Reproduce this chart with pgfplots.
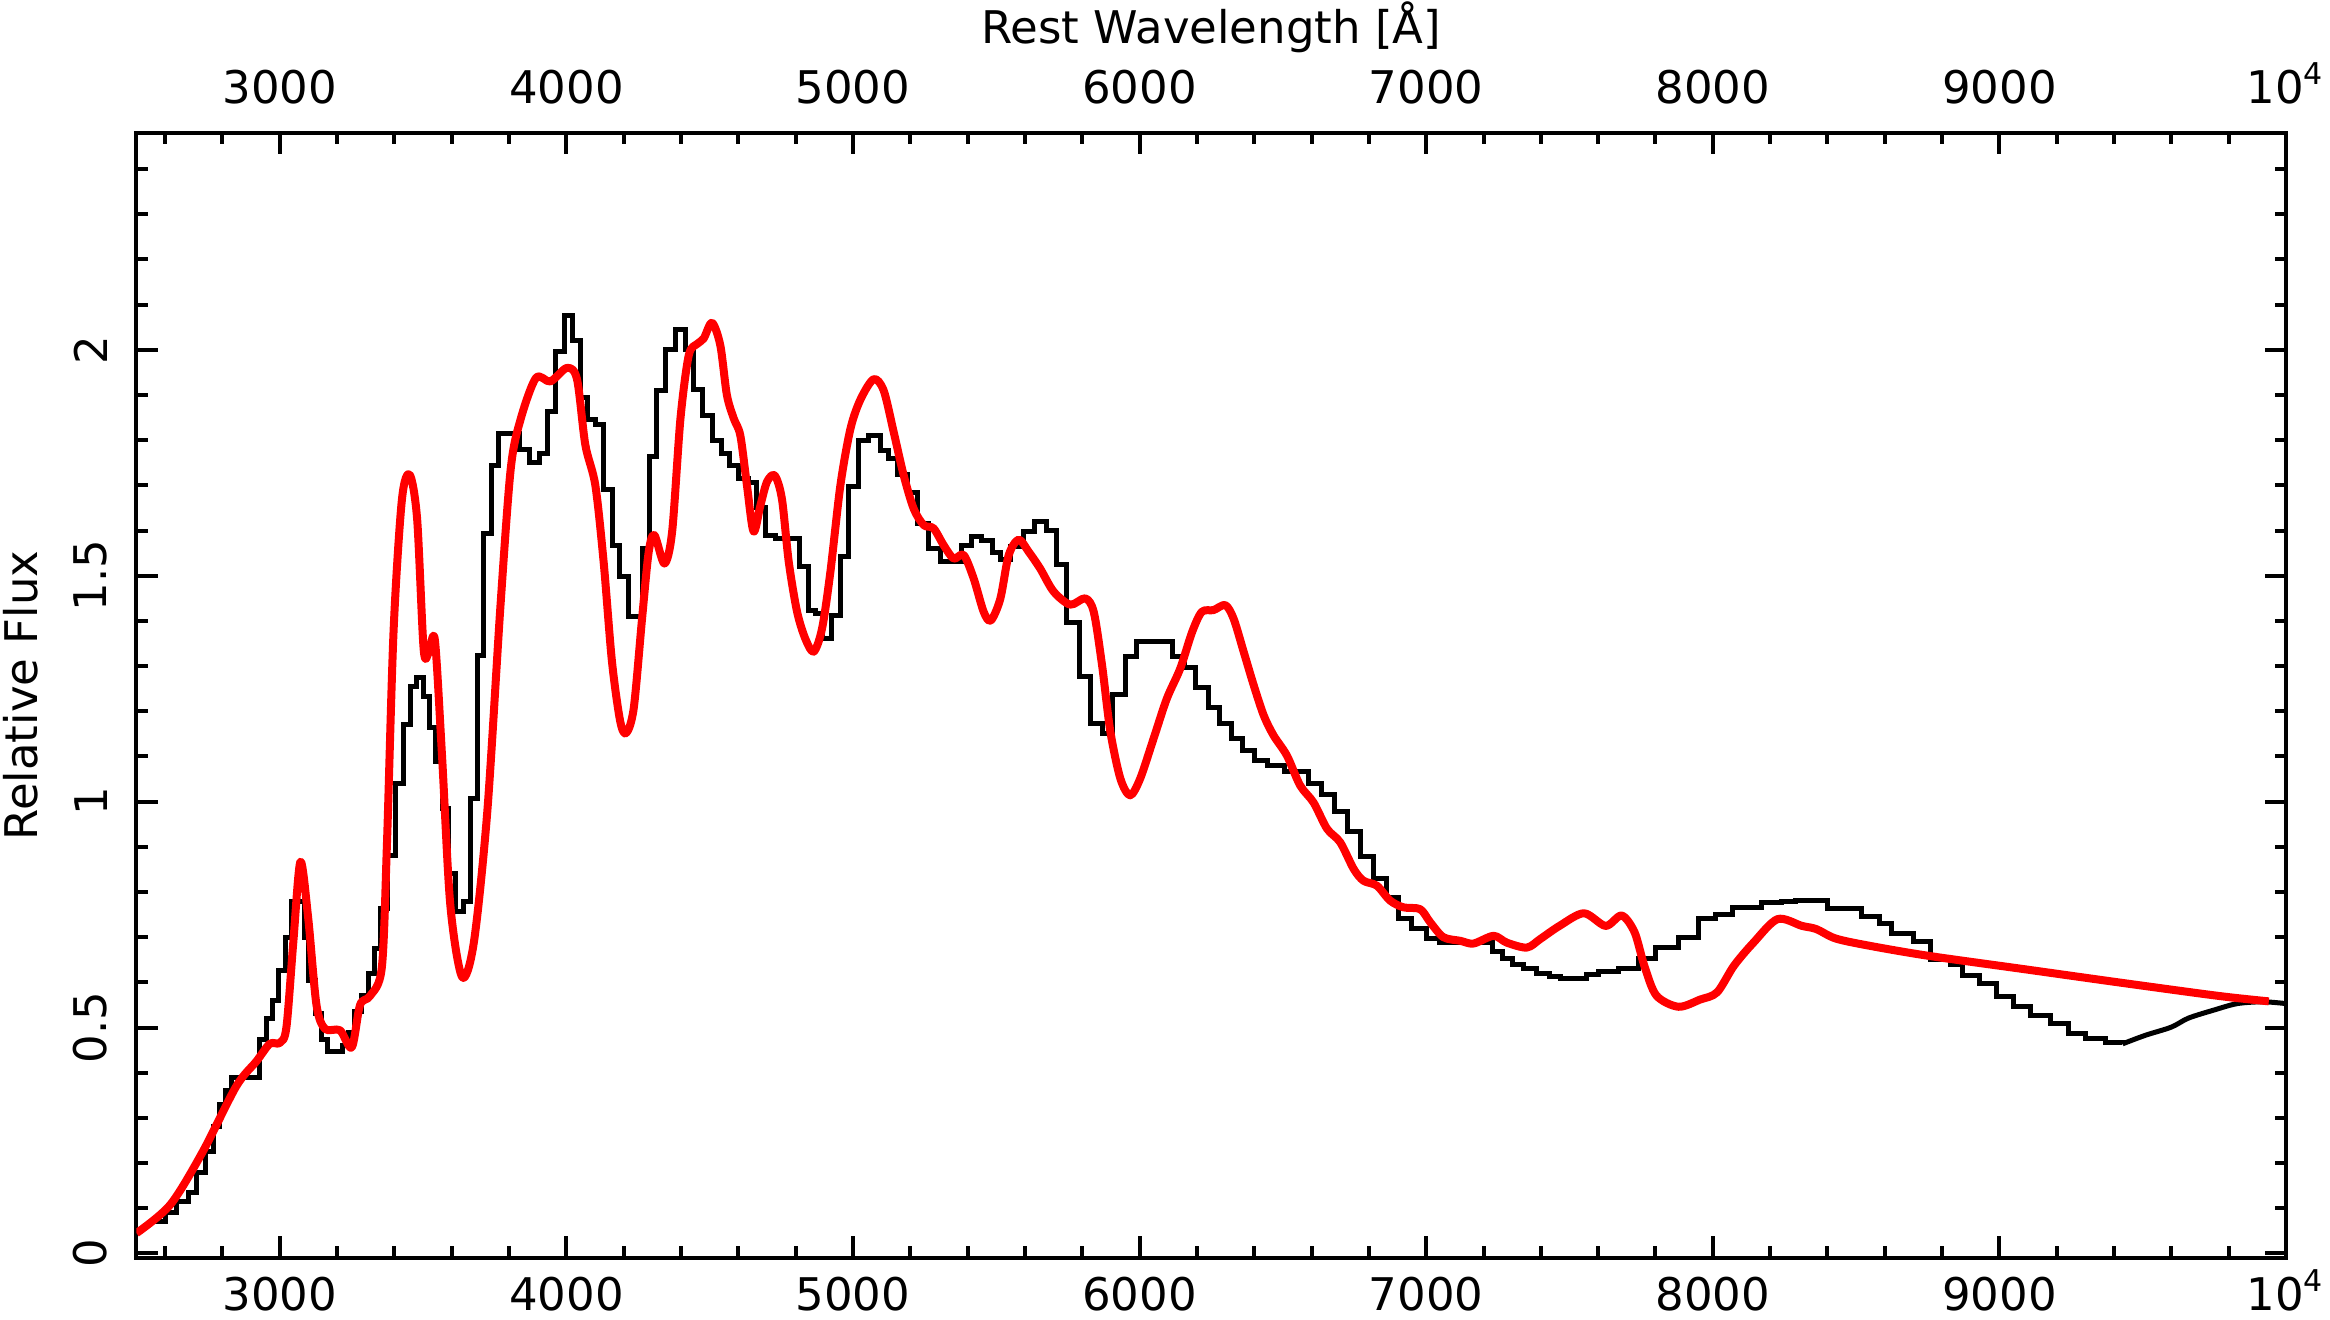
\documentclass[border=0pt]{standalone}
\usepackage{fontspec}
\setmainfont{DejaVu Sans}
\usepackage{pgfplots}
\pgfplotsset{compat=1.18}
\begin{document}
\fontsize{9}{11}\selectfont
\begin{tikzpicture}
\useasboundingbox (-27.3pt,-12.4pt) rectangle (438.7pt,251.6pt);
\begin{axis}[
  at={(0,0)}, anchor=south west, scale only axis,
  width=429.9pt, height=225pt,
  xmin=2500, xmax=10000, ymin=-0.01, ymax=2.48,
  scaled x ticks=false, scaled y ticks=false,
  axis line style={line width=0.8pt},
  every tick/.style={line width=0.8pt, black},
  major tick length=4.3pt, minor tick length=2.3pt,
  xtick={3000,4000,5000,6000,7000,8000,9000,10000},
  xticklabels={3000,4000,5000,6000,7000,8000,9000,{10\textsuperscript{4}}},
  minor xtick={2600,2800,...,9800},
  ytick={0,0.5,1,1.5,2},
  yticklabels={0,0.5,1,1.5,2},
  minor ytick={0.1,0.2,...,2.45},
  tick label style={font=\fontsize{9}{11}\selectfont},
  xticklabel style={anchor=north, text height=6.6pt, text depth=0pt, yshift=-0.8pt},
  yticklabel style={rotate=90, anchor=south, yshift=2.6pt},
  ylabel={Relative Flux},
  ylabel style={at={(axis description cs:0,0.5)}, anchor=center, rotate=0, yshift=23.1pt, font=\fontsize{9}{11}\selectfont},
  clip=true,
]
% observed spectrum (binned)
\addplot[black, line width=1pt, const plot] coordinates {
(2560,0.07) (2600,0.09) (2640,0.115) (2680,0.135) (2710,0.18) (2740,0.225)
(2770,0.28) (2790,0.33) (2810,0.36) (2830,0.39) (2930,0.474) (2955,0.52)
(2975,0.56) (2995,0.626) (3020,0.70) (3040,0.778) (3085,0.70) (3100,0.605)
(3125,0.53) (3145,0.474) (3165,0.446) (3220,0.46) (3240,0.49) (3260,0.536)
(3285,0.57) (3310,0.62) (3330,0.674) (3350,0.764) (3375,0.881) (3405,1.04)
(3430,1.171) (3455,1.254) (3478,1.275) (3500,1.233) (3522,1.164) (3545,1.088)
(3568,0.985) (3590,0.84) (3612,0.757) (3640,0.778) (3665,1.006) (3690,1.323)
(3712,1.593) (3740,1.744) (3762,1.814) (3835,1.779) (3870,1.751) (3905,1.77)
(3935,1.864) (3962,1.996) (3992,2.075) (4020,2.02) (4048,1.895) (4075,1.845)
(4100,1.835) (4130,1.69) (4160,1.568) (4185,1.498) (4215,1.409) (4265,1.561)
(4290,1.764) (4315,1.91) (4345,2.0) (4380,2.045) (4415,2.0) (4445,1.913)
(4475,1.855) (4510,1.80) (4540,1.77) (4570,1.745) (4600,1.715) (4635,1.707)
(4665,1.652) (4695,1.59) (4730,1.582) (4815,1.52) (4845,1.424) (4870,1.416)
(4895,1.361) (4925,1.413) (4955,1.542) (4985,1.697) (5020,1.80) (5055,1.81)
(5095,1.777) (5125,1.76) (5155,1.723) (5190,1.685) (5225,1.616) (5265,1.561)
(5305,1.531) (5380,1.568) (5415,1.587) (5450,1.579) (5485,1.551) (5515,1.535)
(5550,1.564) (5595,1.598) (5635,1.62) (5675,1.60) (5710,1.524) (5745,1.396)
(5790,1.276) (5830,1.172) (5870,1.15) (5905,1.237) (5950,1.321) (5990,1.355)
(6115,1.321) (6155,1.296) (6195,1.253) (6240,1.209) (6280,1.173) (6320,1.139)
(6360,1.113) (6400,1.09) (6445,1.079) (6505,1.067) (6590,1.04) (6635,1.016)
(6680,0.979) (6725,0.935) (6770,0.879) (6815,0.831) (6860,0.787) (6905,0.742)
(6950,0.72) (7000,0.698) (7045,0.689) (7230,0.668) (7265,0.653) (7300,0.639)
(7340,0.63) (7385,0.62) (7430,0.614) (7470,0.609) (7560,0.618) (7600,0.624)
(7670,0.631) (7740,0.653) (7800,0.677) (7880,0.699) (7950,0.741) (8010,0.751)
(8070,0.766) (8170,0.776) (8240,0.779) (8290,0.781) (8400,0.763) (8520,0.746)
(8580,0.731) (8625,0.709) (8700,0.69) (8760,0.65) (8830,0.639) (8870,0.616)
(8930,0.598) (8990,0.568) (9050,0.546) (9110,0.526) (9180,0.509) (9240,0.487)
(9300,0.476) (9370,0.468) (9430,0.464)
};
\addplot[black, line width=1pt, smooth] coordinates {
(9430,0.464) (9510,0.483) (9600,0.501) (9660,0.521) (9750,0.539) (9830,0.553)
(9920,0.557) (10000,0.553)
};
% model spectrum
\addplot[red, line width=1.6pt, smooth, line join=round] coordinates {
(2500,0.045) (2618,0.108) (2731,0.225) (2848,0.37) (2918,0.425) (2965,0.464)
(3000,0.466) (3023,0.50) (3047,0.688) (3072,0.867) (3099,0.743) (3128,0.55)
(3158,0.497) (3210,0.494) (3251,0.456) (3280,0.55) (3315,0.57) (3356,0.633)
(3374,0.909) (3397,1.378) (3426,1.668) (3453,1.724) (3479,1.627) (3502,1.337)
(3520,1.33) (3541,1.358) (3566,1.102) (3595,0.771) (3636,0.612) (3677,0.688)
(3724,0.978) (3770,1.434) (3806,1.738) (3841,1.848) (3894,1.938) (3944,1.93)
(4002,1.96) (4037,1.935) (4066,1.79) (4101,1.70) (4130,1.53) (4159,1.31)
(4188,1.177) (4209,1.152) (4235,1.207) (4264,1.405) (4287,1.552) (4307,1.59)
(4342,1.527) (4369,1.598) (4398,1.848) (4427,1.988) (4456,2.013) (4479,2.025)
(4508,2.06) (4537,2.01) (4560,1.90) (4584,1.848) (4607,1.81) (4630,1.70)
(4653,1.598) (4677,1.656) (4700,1.708) (4727,1.722) (4752,1.67) (4776,1.53)
(4805,1.42) (4834,1.36) (4863,1.332) (4892,1.383) (4921,1.508) (4956,1.70)
(4991,1.825) (5026,1.89) (5072,1.935) (5107,1.91) (5142,1.818) (5177,1.722)
(5212,1.648) (5247,1.612) (5281,1.605) (5316,1.568) (5351,1.538) (5386,1.546)
(5421,1.494) (5456,1.42) (5481,1.401) (5514,1.449) (5543,1.545) (5578,1.58)
(5613,1.553) (5653,1.516) (5700,1.465) (5758,1.436) (5810,1.45) (5840,1.42)
(5869,1.302) (5898,1.155) (5933,1.051) (5967,1.014) (6002,1.051) (6049,1.14)
(6095,1.228) (6142,1.295) (6183,1.375) (6217,1.42) (6258,1.424) (6299,1.435)
(6328,1.405) (6363,1.332) (6398,1.258) (6433,1.191) (6467,1.147) (6514,1.102)
(6560,1.036) (6607,0.998) (6654,0.94) (6700,0.91) (6747,0.851) (6781,0.825)
(6828,0.814) (6874,0.781) (6921,0.766) (6979,0.762) (7014,0.733) (7060,0.70)
(7119,0.692) (7165,0.686) (7235,0.703) (7281,0.688) (7351,0.677) (7398,0.696)
(7465,0.725) (7550,0.753) (7626,0.725) (7682,0.748) (7727,0.711) (7761,0.637)
(7803,0.571) (7880,0.546) (7956,0.562) (8015,0.578) (8074,0.637) (8142,0.688)
(8226,0.74) (8311,0.725) (8361,0.718) (8429,0.697) (8547,0.681) (8750,0.659)
(9089,0.629) (9427,0.599) (9765,0.57) (9940,0.558)
};
\end{axis}
\begin{axis}[
  at={(0,0)}, anchor=south west, scale only axis,
  width=429.9pt, height=225pt,
  xmin=2500, xmax=10000, ymin=-0.01, ymax=2.48,
  scaled x ticks=false, scaled y ticks=false,
  axis x line*=top, axis y line=none,
  axis line style={line width=0.8pt},
  major tick length=0pt, minor tick length=0pt,
  xtick={3000,4000,5000,6000,7000,8000,9000,10000},
  xticklabels={3000,4000,5000,6000,7000,8000,9000,{10\textsuperscript{4}}},
  tick label style={font=\fontsize{9}{11}\selectfont},
  xticklabel style={anchor=south, text depth=0pt, yshift=2.6pt},
  xlabel={Rest Wavelength [Å]},
  xlabel style={at={(axis description cs:0.5,1)}, anchor=center, yshift=21.2pt, font=\fontsize{9}{11}\selectfont},
]
\end{axis}
\end{tikzpicture}
\end{document}
